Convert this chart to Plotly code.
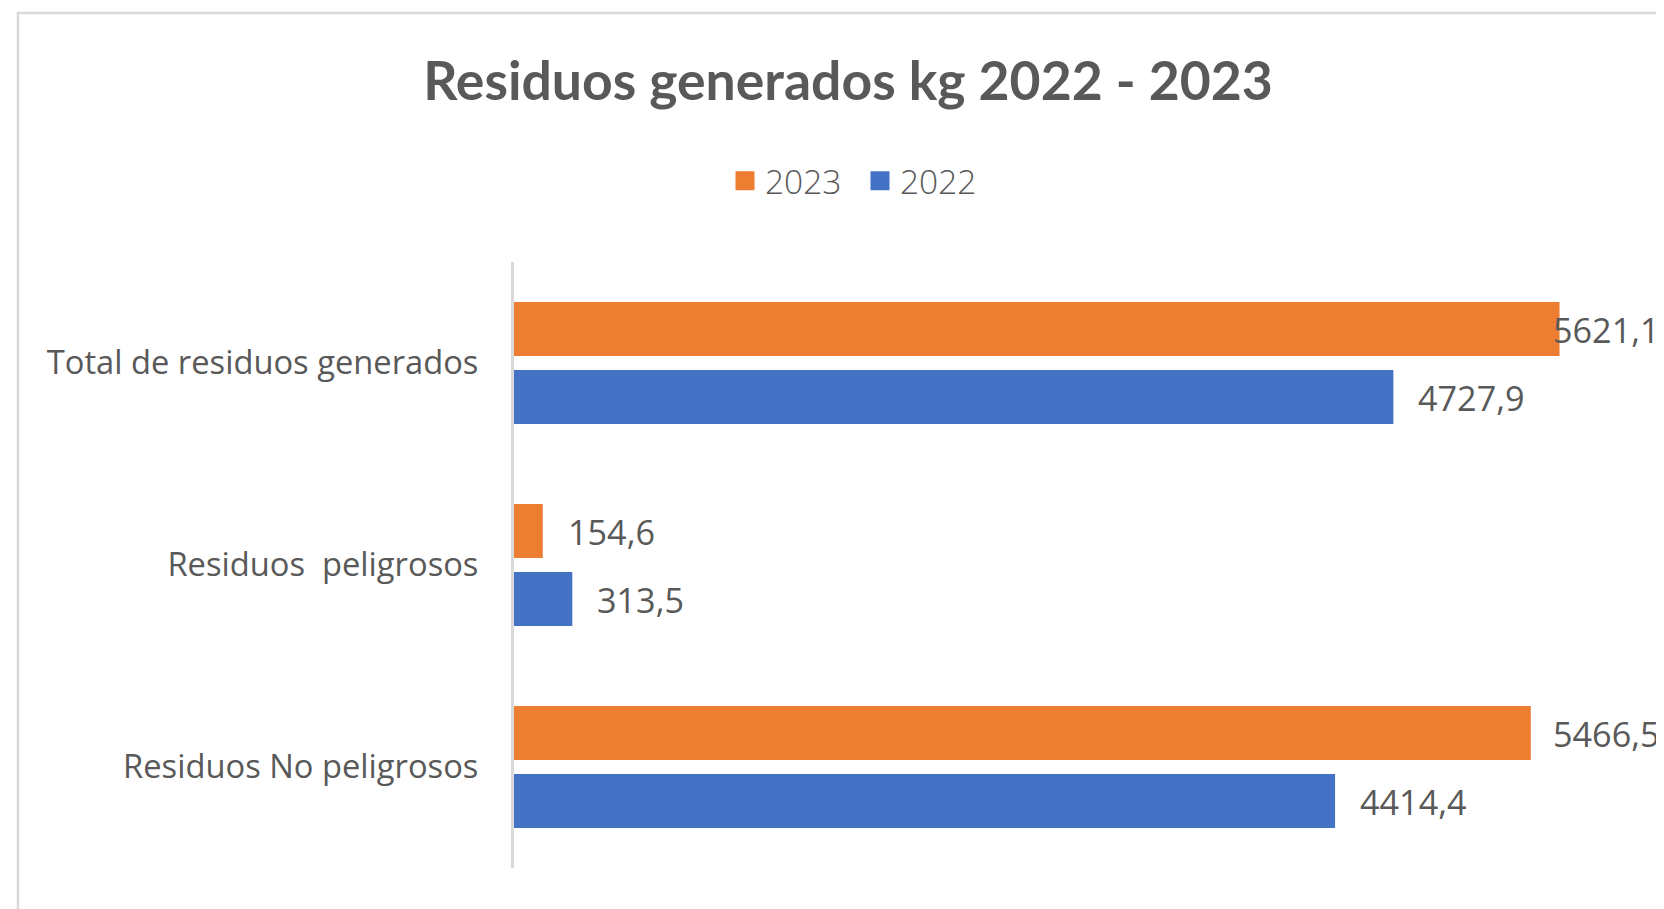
import plotly.graph_objects as go

# ---- data ----
categories = ["Total de residuos generados", "Residuos\u00a0 peligrosos", "Residuos No peligrosos"]
series_names = ["2023", "2022"]
values_2023 = [5621.1, 154.6, 5466.5]
values_2022 = [4727.9, 313.5, 4414.4]
colors = {"2023": "#ED7D31", "2022": "#4472C4"}
x_max = 6000

title_text = "Residuos generados kg 2022 - 2023"

# ---- layout geometry (figure sits inside the page's 8px body margin) ----
W, H = 1656, 901
m_l, m_r, m_t, m_b = 506, 34, 254, 41
plot_w = W - m_l - m_r
plot_h = H - m_t - m_b
text_color = "#595959"
label_size = 34.2


def fmt(v):
    return f"{v:.1f}".replace(".", ",")


def est_width(txt, size):
    return sum((0.26 if c == "," else 0.572) for c in txt) * size


fig = go.Figure()
series = {"2023": values_2023, "2022": values_2022}
for name in series_names:
    fig.add_trace(go.Bar(
        name=name, y=categories, x=series[name], orientation="h",
        marker=dict(color=colors[name], line=dict(width=0)),
        showlegend=False, hoverinfo="x+y",
    ))
# legend entries (bigger squares than the default bar legend symbol)
for name in series_names:
    fig.add_trace(go.Scatter(
        name=name, x=[None], y=[None], mode="markers",
        marker=dict(symbol="square", size=16, color=colors[name],
                    line=dict(width=3, color=colors[name])),
        showlegend=True, hoverinfo="skip",
    ))

# data labels
annotations = []
scale = plot_w / x_max
for name, yshift in (("2023", 34), ("2022", -34)):
    for cat, v in zip(categories, series[name]):
        txt = fmt(v)
        w_txt = est_width(txt, label_size)
        bar_end = m_l + v * scale
        xshift = 23
        limit = W - 6 - w_txt - bar_end
        if xshift > limit:
            xshift = limit
        annotations.append(dict(
            x=v, y=cat, xref="x", yref="y", text=txt, showarrow=False,
            xanchor="left", yanchor="middle", xshift=xshift, yshift=yshift,
            font=dict(family="Open Sans", size=label_size, color=text_color),
        ))

# outer chart frame (top and left edges visible; right/bottom cut off)
fx0 = (10 - m_l) / plot_w
fx1 = (W + 10 - m_l) / plot_w
fy1 = (H - m_b - 5) / plot_h
fy0 = (H - m_b - H - 10) / plot_h
shapes = [dict(type="rect", xref="paper", yref="paper", x0=fx0, x1=fx1, y0=fy0, y1=fy1,
               line=dict(color="#d9d9d9", width=2.5), fillcolor="rgba(0,0,0,0)", layer="below")]

fig.update_layout(
    width=W, height=H, autosize=False,
    margin=dict(l=m_l, r=m_r, t=m_t, b=m_b),
    paper_bgcolor="white", plot_bgcolor="white",
    barmode="group", bargap=0.327, bargroupgap=0.206,
    title=dict(text=title_text, x=840 / W, xref="container", xanchor="center",
               y=1 - 73 / H, yref="container", yanchor="middle",
               font=dict(family="Lato", size=53.5, color=text_color, weight="bold")),
    legend=dict(orientation="h", xref="container", yref="container",
                x=852 / W, xanchor="center", y=1 - 173 / H, yanchor="middle",
                font=dict(family="Open Sans", size=33.5, color=text_color, weight=300),
                itemsizing="trace", entrywidth=90, bgcolor="rgba(0,0,0,0)"),
    xaxis=dict(range=[0, x_max], showgrid=False, zeroline=False, showticklabels=False,
               showline=False, ticks="", fixedrange=True),
    yaxis=dict(autorange="reversed", showline=True, linecolor="#d9d9d9", linewidth=3,
               ticks="", showgrid=False, zeroline=False, automargin=False,
               ticklabelstandoff=26,
               tickfont=dict(family="Open Sans", size=32.7, color=text_color),
               fixedrange=True),
    annotations=annotations,
    shapes=shapes,
    showlegend=True,
)

fig.write_html("out.html")
